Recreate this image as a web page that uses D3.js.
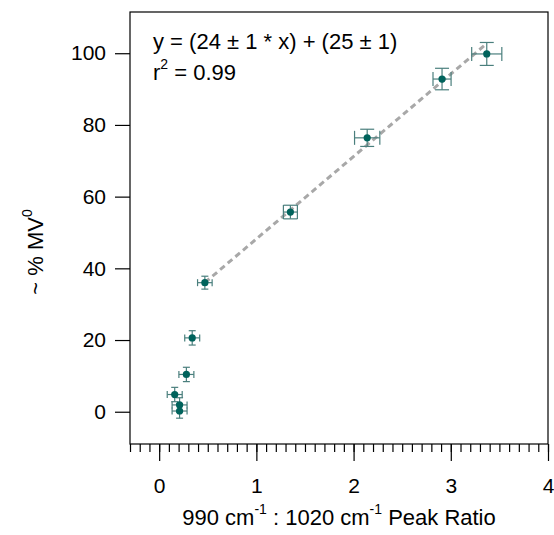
<!DOCTYPE html>
<html>
<head>
<meta charset="utf-8">
<style>
  body { margin: 0; background: #fff; }
  text { font-family: "Liberation Sans", Arial, sans-serif; fill: #000; }
</style>
</head>
<body>
<svg width="554" height="535"></svg>
<script src="https://cdn.jsdelivr.net/npm/d3@7"></script>
<script>
// peak ratio (x) vs ~% MV0 (y), with error bars
const ratio    = [3.37, 2.91, 2.14, 1.35, 0.47, 0.34, 0.28, 0.16, 0.21, 0.21];
const mv       = [99.8, 92.8, 76.4, 55.7, 36.0, 20.6, 10.4, 4.8, 1.9, 0.2];
const ratioErr = [0.155, 0.093, 0.13, 0.072, 0.075, 0.077, 0.077, 0.077, 0.077, 0.077];
const mvErr    = [3.2, 3.0, 2.4, 1.9, 1.8, 2.0, 2.0, 2.0, 2.0, 2.0];
const fitX     = [0.47, 3.37];
const fitSlope = 23, fitIntercept = 25.2;
const xTicks   = [0, 1, 2, 3, 4];
const yTicks   = [0, 20, 40, 60, 80, 100];

const svg = d3.select('svg');
const m = { left: 130, right: 548, top: 12, bottom: 444 };

const x = d3.scaleLinear().domain([-0.3, 4.0]).range([m.left, m.right]);
const y = d3.scaleLinear().domain([-9, 111.5]).range([m.bottom, m.top]);

// frame
svg.append('rect')
    .attr('x', m.left).attr('y', m.top)
    .attr('width', m.right - m.left).attr('height', m.bottom - m.top)
    .attr('fill', 'none').attr('stroke', '#000').attr('stroke-width', 1.2);

// x axis: minor ticks every 0.1, majors at integers
const xAxisG = svg.append('g').attr('transform', `translate(0,${m.bottom})`);
xAxisG.call(d3.axisBottom(x).tickValues(d3.range(-3, 41).map(d => d / 10))
        .tickSize(8).tickFormat(''))
    .call(g => g.select('.domain').remove());
xAxisG.append('g').call(d3.axisBottom(x).tickValues(xTicks).tickSize(17).tickPadding(17)
        .tickFormat(d3.format('d')))
    .call(g => g.select('.domain').remove());
xAxisG.selectAll('line').attr('stroke', '#000').attr('stroke-width', 1.2);
xAxisG.selectAll('text').attr('font-size', 21).attr('fill', '#000');

// y axis
const yAxisG = svg.append('g').attr('transform', `translate(${m.left},0)`);
yAxisG.call(d3.axisLeft(y).tickValues(yTicks).tickSize(15).tickPadding(9)
        .tickFormat(d3.format('d')))
    .call(g => g.select('.domain').remove());
yAxisG.selectAll('line').attr('stroke', '#000').attr('stroke-width', 1.2);
yAxisG.selectAll('text').attr('font-size', 21).attr('fill', '#000');

// axis titles
const xt = svg.append('text')
    .attr('x', (m.left + m.right) / 2).attr('y', 525)
    .attr('text-anchor', 'middle').attr('font-size', 22);
xt.append('tspan').text('990 cm');
xt.append('tspan').attr('dy', -11).attr('font-size', 14).text('-1');
xt.append('tspan').attr('dy', 11).text(' : 1020 cm');
xt.append('tspan').attr('dy', -11).attr('font-size', 14).text('-1');
xt.append('tspan').attr('dy', 11).text(' Peak Ratio');

const yt = svg.append('text')
    .attr('transform', 'translate(43,252) rotate(-90)')
    .attr('text-anchor', 'middle').attr('font-size', 22);
yt.append('tspan').text('~ % MV');
yt.append('tspan').attr('dy', -11).attr('font-size', 14).text('0');

// fit line
svg.append('line')
    .attr('x1', x(fitX[0])).attr('y1', y(fitIntercept + fitSlope * fitX[0]))
    .attr('x2', x(fitX[1])).attr('y2', y(fitIntercept + fitSlope * fitX[1]))
    .attr('stroke', '#a8a8a8').attr('stroke-width', 3)
    .attr('stroke-dasharray', '6,4');

// error bars (short caps on the low-ratio cluster, wider ones above)
const pts = ratio.map((r, i) => ({ x: r, y: mv[i], ex: ratioErr[i], ey: mvErr[i] }));
const eb = svg.append('g').attr('stroke', '#4a7f7d').attr('stroke-width', 1.2);
pts.forEach(p => {
    const cap = p.x < 1 ? 3.5 : 7;
    const cx = x(p.x), cy = y(p.y);
    const x0 = x(p.x - p.ex), x1 = x(p.x + p.ex);
    const y0 = y(p.y - p.ey), y1 = y(p.y + p.ey);
    eb.append('line').attr('x1', x0).attr('x2', x1).attr('y1', cy).attr('y2', cy);
    eb.append('line').attr('x1', cx).attr('x2', cx).attr('y1', y0).attr('y2', y1);
    eb.append('line').attr('x1', x0).attr('x2', x0).attr('y1', cy - cap).attr('y2', cy + cap);
    eb.append('line').attr('x1', x1).attr('x2', x1).attr('y1', cy - cap).attr('y2', cy + cap);
    eb.append('line').attr('x1', cx - cap).attr('x2', cx + cap).attr('y1', y0).attr('y2', y0);
    eb.append('line').attr('x1', cx - cap).attr('x2', cx + cap).attr('y1', y1).attr('y2', y1);
});

// markers
svg.append('g').selectAll('circle').data(pts).join('circle')
    .attr('cx', d => x(d.x)).attr('cy', d => y(d.y))
    .attr('r', 3.6).attr('fill', '#00635c');

// fit annotation
svg.append('text').attr('x', 153).attr('y', 49).attr('font-size', 22)
    .text('y = (24 ± 1 * x) + (25 ± 1)');
const r2 = svg.append('text').attr('x', 153).attr('y', 80).attr('font-size', 22);
r2.append('tspan').text('r');
r2.append('tspan').attr('dy', -11).attr('font-size', 14).text('2');
r2.append('tspan').attr('dy', 11).text(' = 0.99');
</script>
</body>
</html>
